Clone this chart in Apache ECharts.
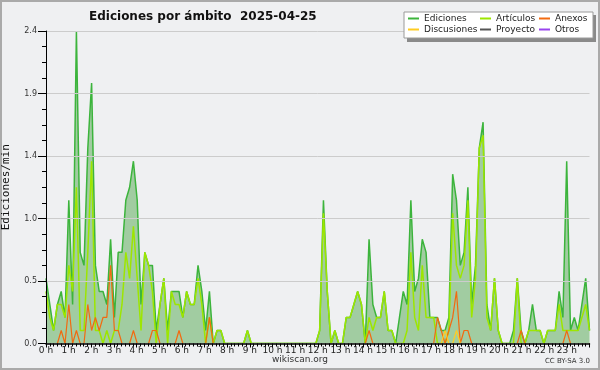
<!DOCTYPE html>
<html><head><meta charset="utf-8">
<script src="https://cdn.jsdelivr.net/npm/echarts@6/dist/echarts.min.js"></script>
<style>html,body{margin:0;padding:0;background:#eff0f2}#c{width:600px;height:370px}</style>
</head><body><div id="c"></div>
<script>
const TITLE = 'Ediciones por ámbito  2025-04-25';
const HOUR_TICKS = [0,1,2,3,4,5,6,7,8,9,10,11,12,13,14,15,16,17,18,19,20,21,22,23,24];
const Y_TICKS = [0, 0.48, 0.96, 1.44, 1.92, 2.4];
const ediciones = [
 0.5,0.3,0.1,0.3,0.4,0.2,1.1,0.3,2.4,0.7,
 0.6,1.5,2.0,0.6,0.4,0.4,0.3,0.8,0.2,0.7,
 0.7,1.1,1.2,1.4,1.1,0.3,0.7,0.6,0.6,0.1,
 0.3,0.5,0.1,0.4,0.4,0.4,0.2,0.4,0.3,0.3,
 0.6,0.4,0.1,0.4,0,0.1,0.1,0,0,0,
 0,0,0,0.1,0,0,0,0,0,0,
 0,0,0,0,0,0,0,0,0,0,
 0,0,0.1,1.1,0.4,0,0.1,0,0,0.2,
 0.2,0.3,0.4,0.3,0,0.8,0.3,0.2,0.2,0.4,
 0.1,0.1,0,0.2,0.4,0.3,1.1,0.4,0.5,0.8,
 0.7,0.2,0.2,0.2,0.1,0.1,0.2,1.3,1.1,0.6,
 0.7,1.2,0.3,0.6,1.5,1.7,0.3,0.1,0.5,0.1,
 0,0,0,0.1,0.5,0.1,0,0.1,0.3,0.1,
 0.1,0,0.1,0.1,0.1,0.4,0.2,1.4,0.1,0.2,
 0.1,0.3,0.5,0.1];
const articulos = [
 0.4,0.2,0.1,0.3,0.3,0.2,0.6,0.4,1.2,0.1,
 0.1,0.7,1.4,0.1,0.1,0,0.1,0,0.1,0.1,
 0.3,0.7,0.5,0.9,0.5,0.1,0.7,0.6,0.4,0,
 0.3,0.5,0,0.4,0.3,0.3,0.2,0.4,0.3,0.3,
 0.5,0.3,0,0.2,0,0.1,0.1,0,0,0,
 0,0,0,0.1,0,0,0,0,0,0,
 0,0,0,0,0,0,0,0,0,0,
 0,0,0.1,1.0,0.4,0,0.1,0,0,0.2,
 0.2,0.3,0.4,0.3,0,0.2,0.1,0.2,0.2,0.4,
 0.1,0.1,0,0,0,0.1,0.7,0.2,0.1,0.6,
 0.2,0.2,0.2,0,0,0,0.1,1.0,0.6,0.5,
 0.6,1.1,0.2,0.5,1.5,1.6,0.2,0.1,0.5,0.1,
 0,0,0,0,0.5,0,0,0.1,0.1,0.1,
 0.1,0,0.1,0.1,0.1,0.3,0.1,0.1,0.1,0.1,
 0.1,0.2,0.3,0.1];
const anexos = [
 0,0,0,0,0.1,0,0.3,0,0.1,0,
 0,0.3,0.1,0.2,0.1,0.2,0.2,0.6,0.1,0.1,
 0,0,0,0.1,0,0,0,0,0.1,0.1,
 0,0,0,0,0,0.1,0,0,0,0,
 0,0,0,0.2,0,0,0,0,0,0,
 0,0,0,0,0,0,0,0,0,0,
 0,0,0,0,0,0,0,0,0,0,
 0,0,0,0,0,0,0,0,0,0,
 0,0,0,0,0,0.1,0,0,0,0,
 0,0,0,0,0,0,0,0,0,0,
 0,0,0,0.2,0.1,0,0.1,0.2,0.4,0,
 0.1,0.1,0,0,0,0,0,0,0,0,
 0,0,0,0,0,0.1,0,0,0,0,
 0,0,0,0,0,0,0,0.1,0,0,
 0,0,0,0];
const discusiones = [
 0,0,0,0,0,0,0,0,0,0,
 0,0,0,0,0,0,0,0,0,0,
 0,0,0,0,0,0,0,0,0,0,
 0,0,0,0,0,0,0,0,0,0,
 0,0,0,0,0,0,0,0,0,0,
 0,0,0,0,0,0,0,0,0,0,
 0,0,0,0,0,0,0,0,0,0,
 0,0,0,0,0,0,0,0,0,0,
 0,0,0,0,0,0,0,0,0,0,
 0,0,0,0,0,0,0,0,0,0,
 0,0,0,0,0,0.1,0,0,0.1,0,
 0,0,0,0,0,0,0,0,0,0,
 0,0,0,0,0,0,0,0,0,0,
 0,0,0,0,0,0,0,0,0,0,
 0,0,0,0];
const proyecto = [
 0,0,0,0,0,0,0,0,0,0, 0,0,0,0,0,0,0,0,0,0, 0,0,0,0,0,0,0,0,0,0,
 0,0,0,0,0,0,0,0,0,0, 0,0,0,0,0,0,0,0,0,0, 0,0,0,0,0,0,0,0,0,0,
 0,0,0,0,0,0,0,0,0,0, 0,0,0,0,0,0,0,0,0,0, 0,0,0,0,0,0,0,0,0,0,
 0,0,0,0,0,0,0,0,0,0, 0,0,0,0,0,0,0,0,0,0, 0,0,0,0,0,0,0,0,0,0,
 0,0,0,0,0,0,0,0,0,0, 0,0,0,0,0,0,0,0,0,0, 0,0,0,0];
const otros = [
 0,0,0,0,0,0,0,0,0,0, 0,0,0,0,0,0,0,0,0,0, 0,0,0,0,0,0,0,0,0,0,
 0,0,0,0,0,0,0,0,0,0, 0,0,0,0,0,0,0,0,0,0, 0,0,0,0,0,0,0,0,0,0,
 0,0,0,0,0,0,0,0,0,0, 0,0,0,0,0,0,0,0,0,0, 0,0,0,0,0,0,0,0,0,0,
 0,0,0,0,0,0,0,0,0,0, 0,0,0,0,0,0,0,0,0,0, 0,0,0,0,0,0,0,0,0,0,
 0,0,0,0,0,0,0,0,0,0, 0,0,0,0,0,0,0,0,0,0, 0,0,0,0];

const SLOTS = ediciones.map((_, i) => Math.floor(i / 6) + ':' + String((i % 6) * 10).padStart(2, '0'));

const chart = echarts.init(document.getElementById('c'), null, {renderer: 'canvas'});
const FONT = 'DejaVu Sans';
function lineSeries(name, data, color, width, z, extra) {
  return Object.assign({
    name, type: 'line', data, xAxisIndex: 0, yAxisIndex: 0,
    showSymbol: false, symbol: 'none', animation: false, z,
    lineStyle: {color, width}, itemStyle: {color}
  }, extra || {});
}
const legendCommon = {
  orient: 'vertical', itemWidth: 11, itemHeight: 2, itemGap: 0, icon: 'rect',
  padding: 0, selectedMode: false, z: 100,
  textStyle: {fontFamily: FONT, fontSize: 9, color: '#222', lineHeight: 11}
};
chart.setOption({
  backgroundColor: '#eff0f2',
  animation: false,
  title: {
    text: TITLE, left: 84, top: 6,
    textStyle: {fontFamily: FONT, fontWeight: 'bold', fontSize: 12, color: '#111'}
  },
  legend: [
    Object.assign({left: 408, top: 13, data: ['Ediciones', 'Discusiones']}, legendCommon),
    Object.assign({left: 480, top: 13, data: ['Artículos', 'Proyecto']}, legendCommon),
    Object.assign({left: 539, top: 13, data: ['Anexos', 'Otros']}, legendCommon)
  ],
  graphic: [
    {type: 'rect', z: -10, silent: true, shape: {x: 1, y: 1, width: 598, height: 368},
     style: {fill: 'none', stroke: '#aaaaaa', lineWidth: 2}},
    {type: 'rect', z: 50, silent: true, shape: {x: 407, y: 15, width: 189, height: 27},
     style: {fill: '#8a8a8a'}},
    {type: 'rect', z: 51, silent: true, shape: {x: 404, y: 12, width: 189, height: 26},
     style: {fill: '#ffffff', stroke: '#9a9a9a', lineWidth: 1}},
    {type: 'text', silent: true, left: 'center', top: 355,
     style: {text: 'wikiscan.org', font: '9px "DejaVu Sans"', fill: '#333'}},
    {type: 'text', silent: true, right: 10, top: 358,
     style: {text: 'CC BY-SA 3.0', font: '7px "DejaVu Sans"', fill: '#333'}}
  ],
  grid: {left: 46, right: 10.5, top: 31, bottom: 26.5, containLabel: false, outerBoundsMode: 'none'},
  xAxis: [
    {type: 'category', data: SLOTS, boundaryGap: false, show: false, gridIndex: 0},
    {type: 'value', min: 0, max: 24, interval: 1, position: 'bottom', gridIndex: 0, z: 5,
     axisLine: {show: true, lineStyle: {color: '#000', width: 1.5}},
     axisTick: {show: true, length: 4, lineStyle: {color: '#000'}},
     minorTick: {show: true, splitNumber: 6, length: 3, lineStyle: {color: '#000'}},
     splitLine: {show: false},
     axisLabel: {fontFamily: FONT, fontSize: 9, color: '#222', margin: 3, showMaxLabel: false,
       formatter: v => HOUR_TICKS.includes(v) && v < 24 ? v + ' h' : ''}}
  ],
  yAxis: {
    type: 'value', min: 0, max: 2.4, interval: 0.48, z: 5,
    name: 'Ediciones/min', nameLocation: 'middle', nameGap: 34, nameRotate: 90,
    nameTextStyle: {fontFamily: 'DejaVu Sans Mono', fontSize: 11, color: '#111'},
    axisLine: {show: true, lineStyle: {color: '#000', width: 1}},
    axisTick: {show: true, length: 8, lineStyle: {color: '#000'}},
    minorTick: {show: true, splitNumber: 4, length: 4, lineStyle: {color: '#000'}},
    splitLine: {show: true, lineStyle: {color: '#cccccc', width: 1}},
    axisLabel: {fontFamily: FONT, fontSize: 8, color: '#333', margin: 9,
      formatter: v => (Y_TICKS.some(t => Math.abs(t - v) < 1e-6) ? v.toFixed(1) : '')}
  },
  series: [
    lineSeries('Ediciones', ediciones, '#3cb43c', 1.5, 2,
      {areaStyle: {color: '#a1cca1', opacity: 1}}),
    lineSeries('Artículos', articulos, '#9de600', 1.5, 3),
    lineSeries('Anexos', anexos, '#f26a10', 1.2, 4),
    lineSeries('Discusiones', discusiones, '#ffcc22', 1.2, 4),
    lineSeries('Proyecto', proyecto, '#555555', 1, 1),
    lineSeries('Otros', otros, '#9944ee', 1, 1)
  ]
});
</script></body></html>
